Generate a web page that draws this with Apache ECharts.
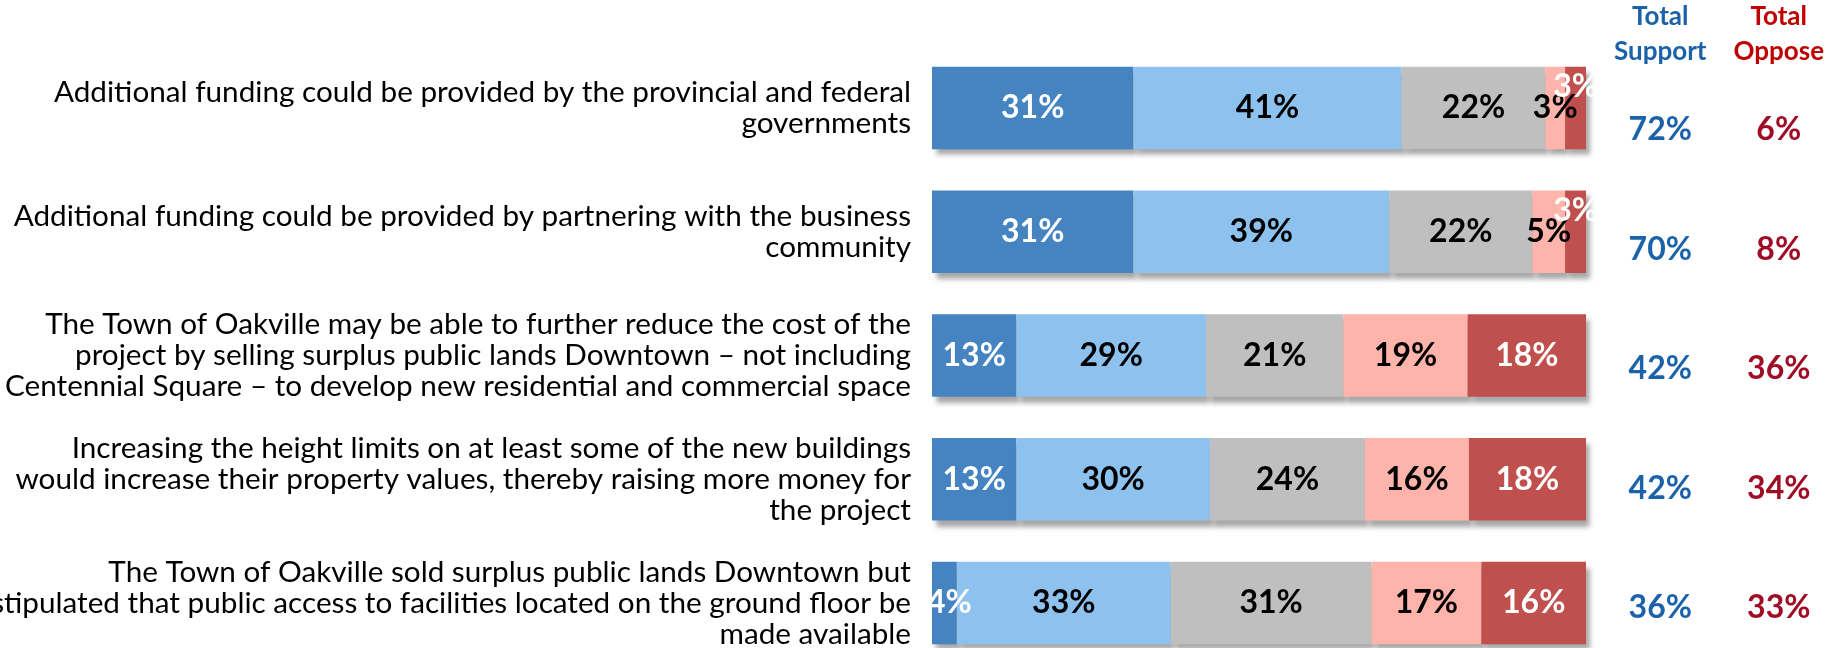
<!DOCTYPE html>
<html>
<head>
<meta charset="utf-8">
<script src="https://cdn.jsdelivr.net/npm/echarts@6/dist/echarts.min.js"></script>
<style>
  html, body { margin: 0; padding: 0; background: #fff; }
  #chart { width: 1835px; height: 648px; }
</style>
</head>
<body>
<div id="chart"></div>
<script>
// statements (top to bottom)
var statements = [
  'Additional funding could be provided by the provincial and federal\ngovernments',
  'Additional funding could be provided by partnering with the business\ncommunity',
  'The Town of Oakville may be able to further reduce the cost of the\nproject by selling surplus public lands Downtown \u2013 not including\nCentennial Square \u2013 to develop new residential and commercial space',
  'Increasing the height limits on at least some of the new buildings\nwould increase their property values, thereby raising more money for\nthe project',
  'The Town of Oakville sold surplus public lands Downtown but\nstipulated that public access to facilities located on the ground floor be\nmade available'
];

// segment shares (labels show them rounded)
var stronglySupport = [30.8, 30.8, 12.9, 12.9, 3.8];
var somewhatSupport = [41.0, 39.1, 29.0, 29.6, 32.7];
var neutral         = [22.0, 21.9, 21.0, 23.7, 30.7];
var somewhatOppose  = [3.0, 5.0, 19.0, 15.9, 16.8];
var stronglyOppose  = [3.2, 3.2, 18.2, 18.0, 16.1];

var totalSupport = [72, 70, 42, 42, 36];
var totalOppose  = [6, 8, 36, 34, 33];
var totalHeaders = ['Total\nSupport', 'Total\nOppose'];

var segColors  = ['#4684c1', '#8dc1ee', '#bfbfbf', '#ffb4ab', '#c0504d'];
var segLabelColors = ['#fff', '#000', '#000', '#000', '#fff'];
var segNames = ['Strongly support', 'Somewhat support', 'Neutral', 'Somewhat oppose', 'Strongly oppose'];
var segData = [stronglySupport, somewhatSupport, neutral, somewhatOppose, stronglyOppose];

// labels that were nudged off-centre in the original
var labelNudge = { '0-4': [5, 0], '4-0': [0, -21], '4-1': [0, -21] };

var chart = echarts.init(document.getElementById('chart'));

var series = segData.map(function (arr, s) {
  return {
    name: segNames[s],
    type: 'bar',
    stack: 'all',
    xAxisIndex: 0,
    yAxisIndex: 0,
    barCategoryGap: '33.4%',
    itemStyle: {
      color: segColors[s],
      shadowColor: 'rgba(0,0,0,0.35)',
      shadowBlur: 5,
      shadowOffsetX: 4,
      shadowOffsetY: 6
    },
    label: {
      show: true,
      position: 'inside',
      color: segLabelColors[s],
      textBorderWidth: 0,
      fontFamily: 'Lato',
      fontWeight: 'bold',
      fontSize: 32,
      formatter: function (p) { return Math.round(p.value) + '%'; }
    },
    data: arr.map(function (v, i) {
      var k = s + '-' + i;
      if (labelNudge[k]) return { value: v, label: { offset: labelNudge[k] } };
      return v;
    })
  };
});

function totalSeries(values, col, color) {
  return {
    type: 'scatter',
    xAxisIndex: 1,
    yAxisIndex: 1,
    symbolSize: 0,
    itemStyle: { opacity: 1 },
    label: {
      show: true, position: 'inside', color: color, textBorderWidth: 0, opacity: 1,
      fontFamily: 'Lato', fontWeight: 'bold', fontSize: 32,
      formatter: function (p) { return p.value[2] + '%'; }
    },
    data: values.map(function (v, i) { return [col, i, v]; })
  };
}
series.push(totalSeries(totalSupport, 0, '#1b62aa'));
series.push(totalSeries(totalOppose, 1, '#a00c25'));

var option = {
  animation: false,
  backgroundColor: '#fff',
  grid: [
    { left: 932, width: 654, top: 46, height: 619, outerBoundsMode: 'none', containLabel: false },
    { left: 1601, width: 237, top: 70, height: 597.5, outerBoundsMode: 'none', containLabel: false }
  ],
  xAxis: [
    { type: 'value', gridIndex: 0, min: 0, max: 100, show: false },
    {
      type: 'category', gridIndex: 1, data: totalHeaders, position: 'top',
      axisLine: { show: false }, axisTick: { show: false }, splitLine: { show: false },
      axisLabel: {
        interval: 0, hideOverlap: false,
        margin: 1, fontFamily: 'Lato', fontWeight: 'bold', fontSize: 26, lineHeight: 35,
        color: function (v, i) { return i === 0 ? '#1b62aa' : '#c00000'; }
      }
    }
  ],
  yAxis: [
    {
      type: 'category', gridIndex: 0, data: statements, inverse: true,
      axisLine: { show: false }, axisTick: { show: false },
      axisLabel: {
        interval: 0,
        margin: 21, color: '#000', fontFamily: 'Lato', fontSize: 29.7, lineHeight: 31, align: 'right'
      }
    },
    {
      type: 'category', gridIndex: 1, data: statements.map(function (s, i) { return i; }), inverse: true,
      show: false
    }
  ],
  series: series
};

chart.setOption(option);
</script>
</body>
</html>
